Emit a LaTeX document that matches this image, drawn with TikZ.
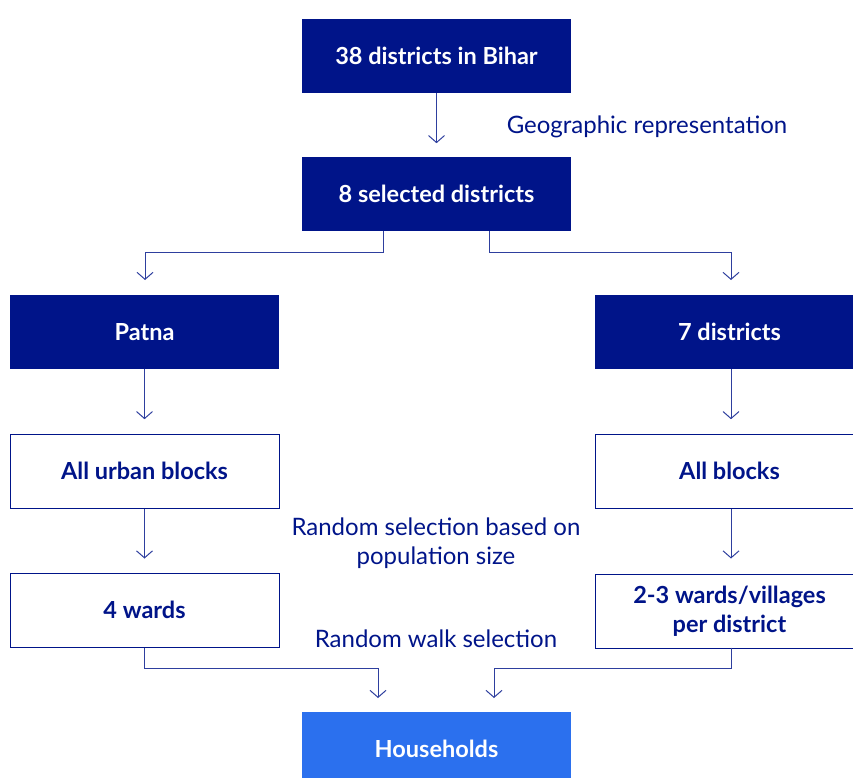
\documentclass[tikz,border=0pt]{standalone}
\usepackage{fontspec}
\setmainfont{Lato}
\usetikzlibrary{arrows.meta}
\definecolor{navy}{HTML}{001489}
\definecolor{hblue}{HTML}{2B70EE}
\definecolor{lnk}{HTML}{2E3F9E}
\tikzset{
  darkbox/.style={fill=navy, draw=none, minimum width=269pt, minimum height=74pt, inner sep=0pt, text=white, font=\fontsize{23.5}{29}\selectfont\bfseries, align=center},
  lightbox/.style={fill=white, draw=navy, line width=1pt, minimum width=269pt, minimum height=74pt, inner sep=0pt, text=navy, font=\fontsize{23.5}{29}\selectfont\bfseries, align=center},
  hhbox/.style={fill=hblue, draw=none, minimum width=269pt, minimum height=74pt, inner sep=0pt, text=white, font=\fontsize{23.5}{29}\selectfont\bfseries, align=center},
  lbl/.style={text=navy, font=\fontsize{24}{28.5}\selectfont, align=center, inner sep=0pt},
  conn/.style={draw=lnk, line width=1pt, -{Straight Barb[length=7pt, width=16pt, line width=1pt]}},
}
\begin{document}
\begin{tikzpicture}[x=1pt, y=-1pt]
\useasboundingbox (0,0) rectangle (853,778);
\clip (0,0) rectangle (853,778);
\node[darkbox] (bihar) at (436.5,56) {38 districts in Bihar};
\node[darkbox] (sel) at (436.5,194) {8 selected districts};
\node[darkbox] (patna) at (144.5,332) {Patna};
\node[darkbox] (seven) at (729.5,332) {7 districts};
\node[lightbox] (urban) at (144.5,471) {All urban blocks};
\node[lightbox] (blocks) at (729.5,471) {All blocks};
\node[lightbox] (wards) at (144.5,610) {4 wards};
\node[lightbox] (wv) at (729.5,611) {2-3 wards/villages\\per district};
\node[hhbox] (hh) at (436.5,749) {Households};

\node[lbl] (geo) at (647,127) {Geographic representation};
\node[lbl] (rsel) at (436,543) {Random selection based on\\population size};
\node[lbl] (rwalk) at (436,639) {Random walk selection};

\draw[conn] (bihar.south) -- ++(0,50);
\draw[conn] ([xshift=-53pt]sel.south) |- (145,252) -- (145,280);
\draw[conn] ([xshift=53pt]sel.south) |- (731,252) -- (731,280);
\draw[conn] (patna.south) -- ++(0,50);
\draw[conn] ([xshift=1.5pt]seven.south) -- ++(0,50);
\draw[conn] (urban.south) -- ++(0,50);
\draw[conn] ([xshift=1.5pt]blocks.south) -- ++(0,50);
\draw[conn] (wards.south) |- (378,668) -- (378,698);
\draw[conn] ([xshift=1.5pt,yshift=1pt]wv.south) |- (494,668) -- (494,698);
\end{tikzpicture}
\end{document}
